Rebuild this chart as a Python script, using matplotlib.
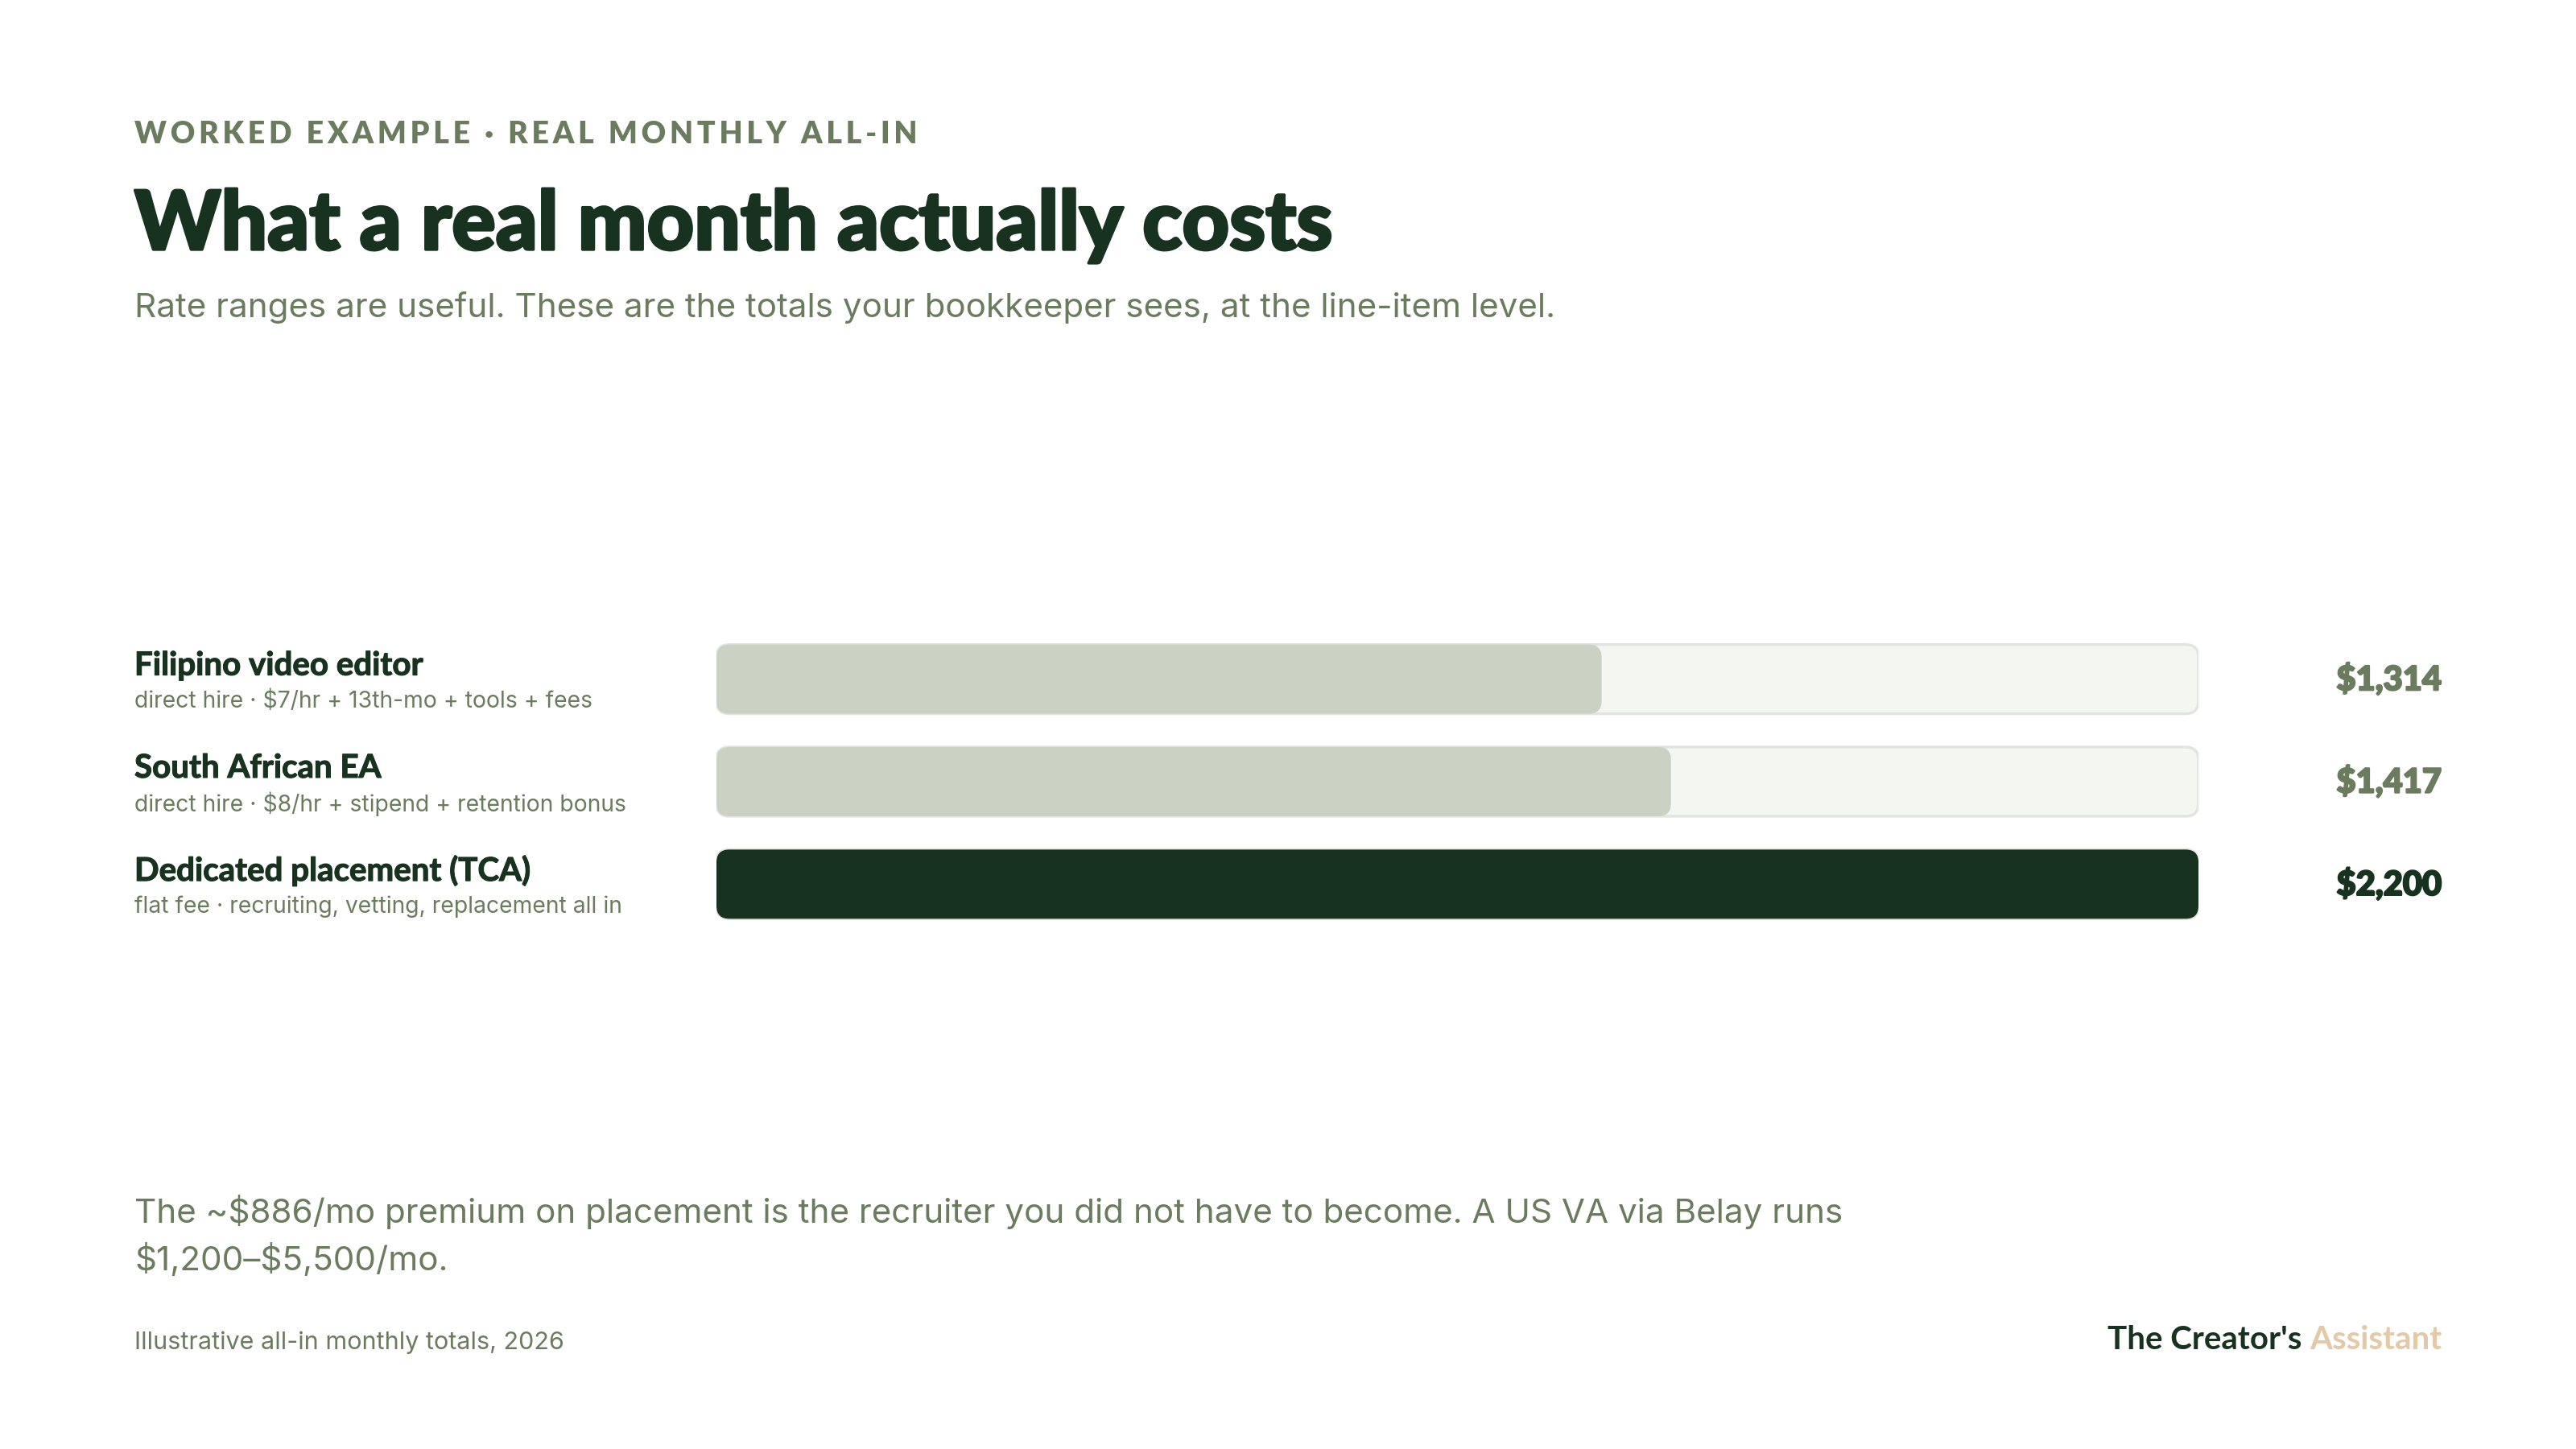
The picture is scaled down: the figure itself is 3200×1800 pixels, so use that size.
import matplotlib.pyplot as plt
import matplotlib.transforms as mtransforms
import matplotlib.patheffects as pe
from matplotlib.patches import FancyBboxPatch

# data
roles = ["Filipino video editor", "South African EA", "Dedicated placement (TCA)"]
details = [
    "direct hire · $7/hr + 13th-mo + tools + fees",
    "direct hire · $8/hr + stipend + retention bonus",
    "flat fee · recruiting, vetting, replacement all in",
]
monthly_cost = [1314, 1417, 2200]
value_labels = ["$1,314", "$1,417", "$2,200"]

# colours
DARK = "#17321f"
MUTED = "#6b7c5e"
LIGHT_BAR = "#cbd1c3"
TRACK = "#f4f6f2"
TRACK_EDGE = "#e2e5de"
TAN = "#e3c9a5"

HEAD = ["Lato", "DejaVu Sans"]
BODY = ["Inter", "DejaVu Sans"]

fig = plt.figure(figsize=(16, 9), dpi=200)
fig.patch.set_facecolor("white")

LEFT = 167 / 3200
RIGHT = 3033 / 3200

# header (eyebrow gets thin spaces for letter tracking)
eyebrow = "\u2009".join("WORKED EXAMPLE · REAL MONTHLY ALL-IN")
fig.text(LEFT, 1 - 178 / 1800, eyebrow, family=HEAD, weight="heavy",
         size=13.5, color=MUTED, va="baseline", parse_math=False)
fig.text(LEFT, 1 - 310 / 1800, "What a real month actually costs",
         family=HEAD, weight="black", size=36.6, color=DARK, va="baseline",
         path_effects=[pe.withStroke(linewidth=1.2, foreground=DARK)])
fig.text(LEFT, 1 - 394 / 1800,
         "Rate ranges are useful. These are the totals your bookkeeper sees, at the line-item level.",
         family=BODY, size=15.2, color=MUTED, va="baseline")

# bar area: x 890..2731 px, rows centred at ~845/971/1100 px
ax = fig.add_axes([890 / 3200, 1 - 1162 / 1800, (2731 - 890) / 3200, 382 / 1800])
vmax = max(monthly_cost)
ax.set_xlim(0, vmax)
ax.set_ylim(len(roles) - 0.5, -0.5)
ax.axis("off")

bar_h = 0.675
px_x = (2731 - 890) / vmax          # pixels per x unit
px_y = 382 / len(roles)             # pixels per y unit
r_px = 16
rs = r_px / px_x
aspect = (r_px / px_y) / rs

for i, v in enumerate(monthly_cost):
    track = FancyBboxPatch((0, i - bar_h / 2), vmax, bar_h,
                           boxstyle=f"round,pad=0,rounding_size={rs}",
                           mutation_aspect=aspect, facecolor=TRACK,
                           edgecolor=TRACK_EDGE, linewidth=1.2, zorder=1)
    ax.add_patch(track)
    fill = DARK if i == len(monthly_cost) - 1 else LIGHT_BAR
    bar = FancyBboxPatch((0, i - bar_h / 2), v, bar_h,
                         boxstyle=f"round,pad=0,rounding_size={rs}",
                         mutation_aspect=aspect, facecolor=fill,
                         edgecolor="none", zorder=2)
    ax.add_patch(bar)

trans = mtransforms.blended_transform_factory(fig.transFigure, ax.transData)
for i, (name, sub, lab) in enumerate(zip(roles, details, value_labels)):
    ax.text(LEFT, i - 0.13, name, transform=trans, family=HEAD, weight="bold",
            size=14.5, color=DARK, va="center", ha="left",
            path_effects=[pe.withStroke(linewidth=0.4, foreground=DARK)])
    ax.text(LEFT, i + 0.22, sub, transform=trans, family=BODY,
            size=10.2, color=MUTED, va="center", ha="left", parse_math=False)
    col = DARK if i == len(roles) - 1 else MUTED
    ax.text(RIGHT, i, lab, transform=trans, family=HEAD, weight="black",
            size=15, color=col, va="center", ha="right", parse_math=False,
            path_effects=[pe.withStroke(linewidth=0.8, foreground=col)])

# footnote
fig.text(LEFT, 1 - 1519 / 1800,
         "The ~$886/mo premium on placement is the recruiter you did not have to become. A US VA via Belay runs",
         family=BODY, size=15.2, color=MUTED, va="baseline", parse_math=False)
fig.text(LEFT, 1 - 1578 / 1800, "$1,200–$5,500/mo.",
         family=BODY, size=15.2, color=MUTED, va="baseline", parse_math=False)
fig.text(LEFT, 1 - 1676 / 1800, "Illustrative all-in monthly totals, 2026",
         family=BODY, size=11, color=MUTED, va="baseline")

t_assist = fig.text(RIGHT, 1 - 1676 / 1800, "Assistant", family=HEAD,
                    weight="bold", size=14.5, color=TAN, va="baseline", ha="right")
fig.canvas.draw()
bb = t_assist.get_window_extent()
fig.text(bb.x0 / fig.bbox.width, 1 - 1676 / 1800, "The Creator's ",
         family=HEAD, weight="bold", size=14.5, color=DARK, ha="right", va="baseline")

fig.savefig("out.png", dpi=200, facecolor="white")
